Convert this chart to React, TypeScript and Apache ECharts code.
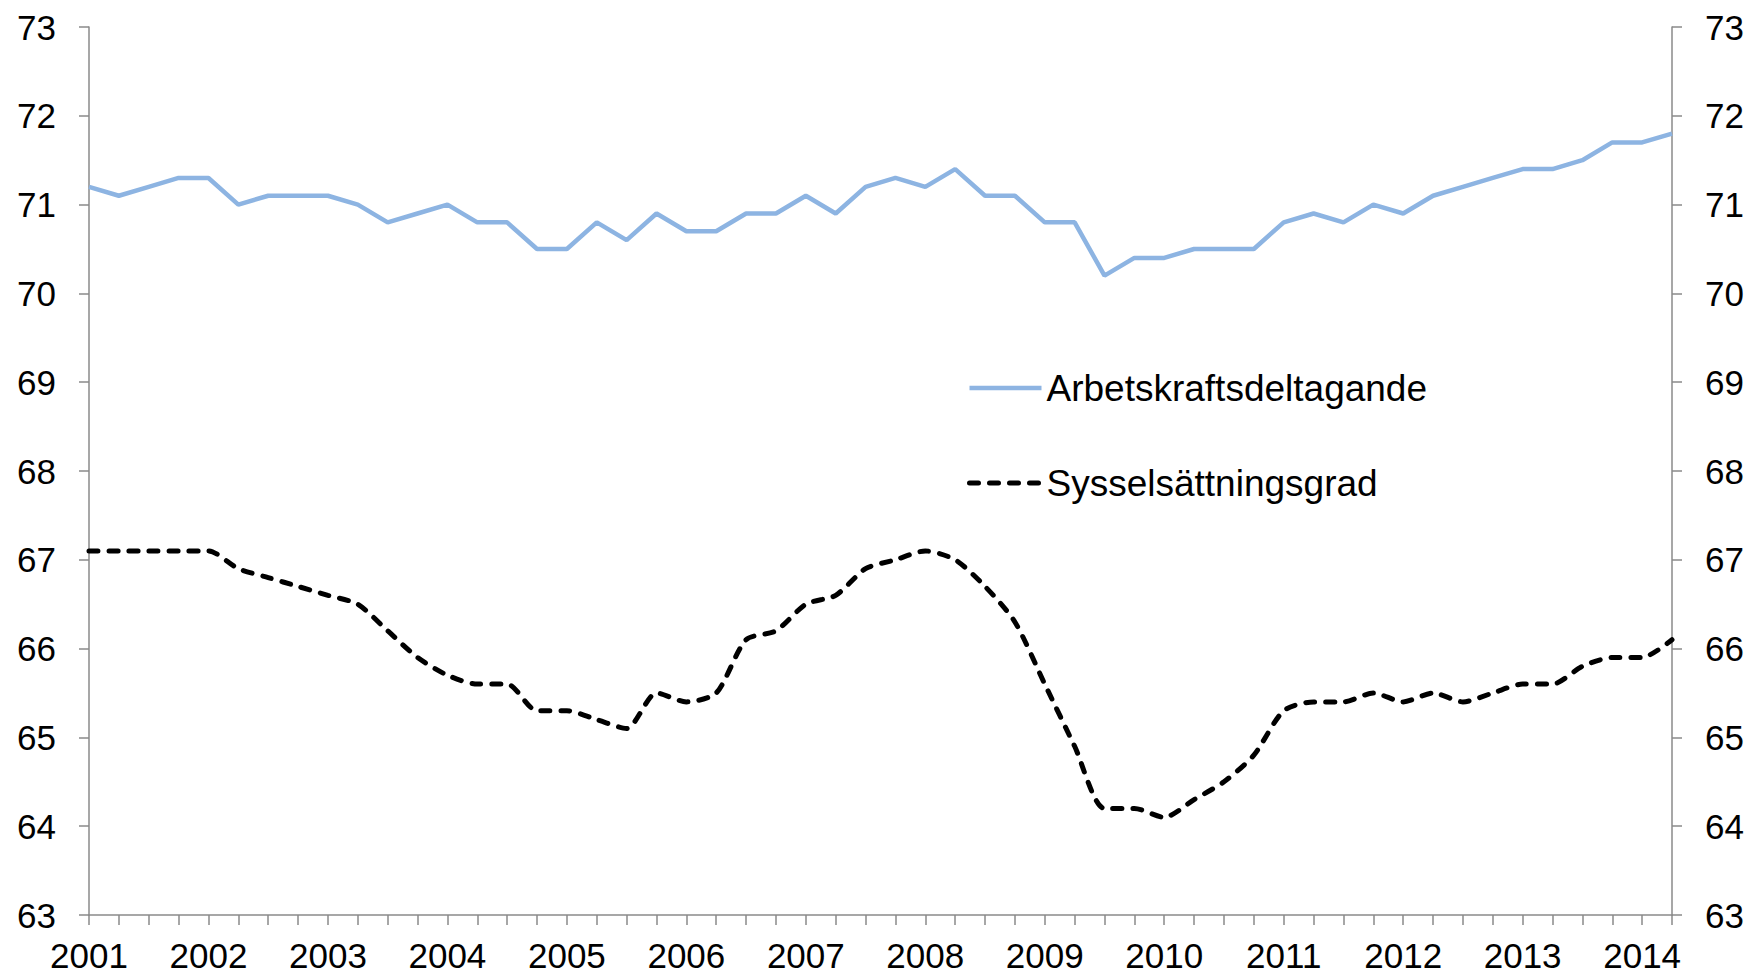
import React, { useEffect, useRef } from "react";
import * as echarts from "echarts";

const years = ["2001","2002","2003","2004","2005","2006","2007","2008","2009","2010","2011","2012","2013","2014"];
const quarters = ["K1","K2","K3","K4"];
const categories: string[] = [];
years.forEach((y) => quarters.forEach((q) => categories.push(y + " " + q)));
categories.splice(54);

const yTicks = { min: 63, max: 73, interval: 1 };

const arbetskraft = [
  71.2, 71.1, 71.2, 71.3,
  71.3, 71.0, 71.1, 71.1,
  71.1, 71.0, 70.8, 70.9,
  71.0, 70.8, 70.8, 70.5,
  70.5, 70.8, 70.6, 70.9,
  70.7, 70.7, 70.9, 70.9,
  71.1, 70.9, 71.2, 71.3,
  71.2, 71.4, 71.1, 71.1,
  70.8, 70.8, 70.2, 70.4,
  70.4, 70.5, 70.5, 70.5,
  70.8, 70.9, 70.8, 71.0,
  70.9, 71.1, 71.2, 71.3,
  71.4, 71.4, 71.5, 71.7,
  71.7, 71.8,
];

const syssel = [
  67.1, 67.1, 67.1, 67.1,
  67.1, 66.9, 66.8, 66.7,
  66.6, 66.5, 66.2, 65.9,
  65.7, 65.6, 65.6, 65.3,
  65.3, 65.2, 65.1, 65.5,
  65.4, 65.5, 66.1, 66.2,
  66.5, 66.6, 66.9, 67.0,
  67.1, 67.0, 66.7, 66.3,
  65.6, 64.9, 64.2, 64.2,
  64.1, 64.3, 64.5, 64.8,
  65.3, 65.4, 65.4, 65.5,
  65.4, 65.5, 65.4, 65.5,
  65.6, 65.6, 65.8, 65.9,
  65.9, 66.1,
];

const FONT = "'Liberation Sans', Arial, sans-serif";
const AXIS_COLOR = "#8a8a8a";
const BLUE = "#8DB4E2";
const DASH = [9, 11];

export default function App() {
  const ref = useRef<HTMLDivElement>(null);
  useEffect(() => {
    if (!ref.current) return;
    const chart = echarts.init(ref.current, null, { renderer: "svg" });
    const yAxisBase = {
      type: "value" as const,
      min: yTicks.min,
      max: yTicks.max,
      interval: yTicks.interval,
      splitLine: { show: false },
      axisLine: { show: true, lineStyle: { color: AXIS_COLOR, width: 1.5 } },
      axisTick: { show: true, length: 10, lineStyle: { color: AXIS_COLOR, width: 1.5 } },
      axisLabel: { color: "#000", fontSize: 35, fontFamily: FONT, margin: 33 },
    };
    chart.setOption({
      animation: false,
      backgroundColor: "#fff",
      grid: { left: 89, right: 78, top: 27, bottom: 60, containLabel: false },
      legend: {
        orient: "vertical",
        left: 962,
        top: 363,
        itemWidth: 72,
        itemHeight: 14,
        itemGap: 55,
        itemStyle: { opacity: 0 },
        textStyle: { color: "#000", fontSize: 37, fontFamily: FONT, lineHeight: 40 },
        data: [
          { name: "Arbetskraftsdeltagande", lineStyle: { width: 4.5, color: BLUE } },
          { name: "Sysselsättningsgrad", lineStyle: { width: 5, color: "#000", type: DASH, cap: "round" } },
        ],
      },
      xAxis: {
        type: "category",
        data: categories,
        boundaryGap: false,
        axisLine: { show: true, lineStyle: { color: AXIS_COLOR, width: 1.5 } },
        axisTick: { show: true, interval: 0, length: 10, lineStyle: { color: AXIS_COLOR, width: 1.5 } },
        axisLabel: {
          interval: 3,
          color: "#000",
          fontSize: 35,
          fontFamily: FONT,
          margin: 23,
          formatter: (v: string) => v.split(" ")[0],
        },
      },
      yAxis: [
        { ...yAxisBase, position: "left" },
        { ...yAxisBase, position: "right" },
      ],
      series: [
        {
          name: "Arbetskraftsdeltagande",
          type: "line",
          data: arbetskraft,
          symbol: "none",
          lineStyle: { color: BLUE, width: 4.5 },
          itemStyle: { color: BLUE },
        },
        {
          name: "Sysselsättningsgrad",
          type: "line",
          data: syssel,
          symbol: "none",
          smooth: 0.25,
          lineStyle: { color: "#000", width: 5, type: DASH, cap: "round" },
          itemStyle: { color: "#000" },
        },
      ],
    });
    return () => chart.dispose();
  }, []);
  return (
    <div
      ref={ref}
      style={{ position: "fixed", left: 0, top: 0, width: 1750, height: 975, overflow: "hidden" }}
    />
  );
}
